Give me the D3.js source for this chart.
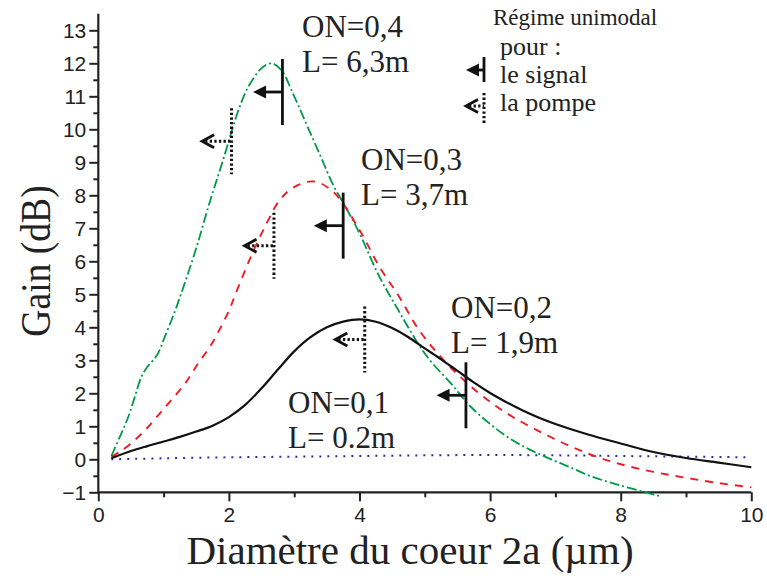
<!DOCTYPE html>
<html>
<head>
<meta charset="utf-8">
<script src="https://cdn.jsdelivr.net/npm/d3@7"></script>
<style>
  html, body { margin: 0; padding: 0; background: #fff; }
  svg { display: block; }
</style>
</head>
<body>
<svg id="chart" width="767" height="576"></svg>
<script>
// ---------------- DATA ----------------
// ON = 0.1, L = 0.2 m (blue dotted)
const on01X = [0.2, 1, 2, 3, 4, 5, 6, 7, 8, 9, 10];
const on01G = [0.0, 0.03, 0.06, 0.08, 0.1, 0.12, 0.13, 0.12, 0.1, 0.08, 0.06];

// ON = 0.2, L = 1.9 m (black solid)
const on02X = [0.2, 0.5, 0.75, 1.0, 1.25, 1.5, 1.75, 2.0, 2.25, 2.5, 2.75, 3.0, 3.25, 3.5, 3.75, 4.0, 4.25, 4.5, 4.75, 5.0, 5.25, 5.5, 5.75, 6.0, 6.25, 6.5, 6.75, 7.0, 7.5, 8.0, 8.5, 9.0, 9.5, 10.0];
const on02G = [0.03, 0.25, 0.4, 0.54, 0.68, 0.84, 1.02, 1.28, 1.65, 2.15, 2.72, 3.27, 3.7, 4.0, 4.17, 4.24, 4.17, 3.98, 3.7, 3.36, 3.03, 2.68, 2.33, 2.01, 1.73, 1.48, 1.26, 1.07, 0.75, 0.48, 0.22, 0.04, -0.1, -0.24];

// ON = 0.3, L = 3.7 m (red dashed)
const on03X = [0.2, 0.33, 0.5, 0.72, 0.92, 1.12, 1.33, 1.53, 1.71, 1.84, 2.0, 2.1, 2.35, 2.58, 2.78, 3.0, 3.3, 3.6, 4.0, 4.3, 4.6, 4.9, 5.2, 5.5, 5.8, 6.1, 6.4, 6.8, 7.2, 7.6, 8.0, 8.5, 9.0, 9.5, 10.0];
const on03G = [0.08, 0.23, 0.48, 0.89, 1.34, 1.8, 2.3, 2.91, 3.41, 3.87, 4.5, 5.0, 6.2, 7.16, 7.86, 8.25, 8.42, 8.1, 6.95, 5.85, 4.95, 3.95, 3.2, 2.58, 2.05, 1.6, 1.22, 0.8, 0.42, 0.1, -0.15, -0.38, -0.56, -0.72, -0.85];

// ON = 0.4, L = 6.3 m (green dash-dot)
const on04X = [0.2, 0.33, 0.46, 0.56, 0.66, 0.75, 0.9, 1.02, 1.17, 1.3, 1.5, 1.7, 1.9, 2.15, 2.3, 2.5, 2.65, 2.8, 3.0, 3.2, 3.4, 3.6, 3.8, 4.0, 4.3, 4.6, 4.9, 5.1, 5.4, 5.7, 6.0, 6.3, 6.6, 6.9, 7.2, 7.5, 7.8, 8.1, 8.6];
const on04G = [0.1, 0.68, 1.29, 1.9, 2.5, 2.8, 3.16, 3.72, 4.47, 5.2, 6.4, 7.75, 9.0, 10.6, 11.3, 11.85, 12.0, 11.8, 11.0, 10.1, 9.2, 8.3, 7.6, 6.85, 5.55, 4.5, 3.5, 2.95, 2.3, 1.6, 1.07, 0.63, 0.3, 0.03, -0.22, -0.48, -0.68, -0.85, -1.12];

// Single-mode cutoff markers (order: ON 0.2, 0.3, 0.4)
const signalCutX = [5.63, 3.75, 2.82];
const signalMidG = [1.94, 7.08, 11.13];
const pumpCutX = [4.08, 2.69, 2.04];
const pumpMidG = [3.63, 6.47, 9.64];

// Ticks
const xMajorTicks = [0, 2, 4, 6, 8, 10];
const xMinorTicks = [1, 3, 5, 7, 9];
const yMajorTicks = [-1, 0, 1, 2, 3, 4, 5, 6, 7, 8, 9, 10, 11, 12, 13];
const yMinorTicks = [-0.5, 0.5, 1.5, 2.5, 3.5, 4.5, 5.5, 6.5, 7.5, 8.5, 9.5, 10.5, 11.5, 12.5];

// Text
const curveLabels = [
  ["ON=0,4", "L= 6,3m"],
  ["ON=0,3", "L= 3,7m"],
  ["ON=0,2", "L= 1,9m"],
  ["ON=0,1", "L= 0.2m"]
];
const legendLines = ["Régime unimodal", "pour :", "le signal", "la pompe"];
const xTitle = "Diamètre du coeur 2a (\u00b5m)";
const yTitle = "Gain (dB)";

// ---------------- LAYOUT ----------------
const svg = d3.select("#chart");
const x = d3.scaleLinear().domain([0, 10]).range([98.3, 751.3]);
const y = d3.scaleLinear().domain([-1, 13.5]).range([492.3, 13.8]);
const serif = "Liberation Serif, Times New Roman, serif";
const sans = "Liberation Sans, Arial, sans-serif";

// Axes
const xAxisMajor = d3.axisBottom(x).tickValues(xMajorTicks).tickSize(9).tickPadding(6).tickFormat(d3.format("d"));
const xAxisMinor = d3.axisBottom(x).tickValues(xMinorTicks).tickSize(5).tickFormat("");
const yAxisMajor = d3.axisLeft(y).tickValues(yMajorTicks).tickSize(9).tickPadding(3).tickFormat(d3.format("d"));
const yAxisMinor = d3.axisLeft(y).tickValues(yMinorTicks).tickSize(5).tickFormat("");

function styleAxis(g) {
  g.selectAll("path.domain").attr("stroke", "#222").attr("stroke-width", 2.2);
  g.selectAll(".tick line").attr("stroke", "#222").attr("stroke-width", 2);
  g.selectAll(".tick text").attr("font-family", sans).attr("font-size", 21).attr("fill", "#222");
}

const gx = svg.append("g").attr("transform", `translate(0,${y(-1)})`).call(xAxisMajor).call(styleAxis);
gx.select("path.domain").attr("d", `M${x(0)},0H${x(10)}`);
const gxm = svg.append("g").attr("transform", `translate(0,${y(-1)})`).call(xAxisMinor).call(styleAxis);
gxm.select("path.domain").remove();

const gy = svg.append("g").attr("transform", `translate(${x(0)},0)`).call(yAxisMajor).call(styleAxis);
gy.select("path.domain").attr("d", `M0,${y(13.5)}V${y(-1)}`);
gy.selectAll(".tick text").attr("dy", "0.36em");
const gym = svg.append("g").attr("transform", `translate(${x(0)},0)`).call(yAxisMinor).call(styleAxis);
gym.select("path.domain").remove();

// Axis titles
svg.append("text")
  .attr("transform", `translate(50,261) rotate(-90) scale(0.94,1.07)`)
  .attr("text-anchor", "middle")
  .attr("font-family", serif).attr("font-size", 40).attr("fill", "#222")
  .text(yTitle);
svg.append("text")
  .attr("x", 410).attr("y", 564)
  .attr("text-anchor", "middle")
  .attr("font-family", serif).attr("font-size", 41).attr("fill", "#222")
  .text(xTitle);

// Curves
const line = d3.line().x(d => x(d[0])).y(d => y(d[1])).curve(d3.curveCatmullRom.alpha(0.5));
const series = [
  { xs: on01X, gs: on01G, color: "#2b2ba6", width: 2, dash: "2,6" },
  { xs: on04X, gs: on04G, color: "#00994a", width: 1.8, dash: "10,3,2,3" },
  { xs: on03X, gs: on03G, color: "#ee1c25", width: 1.9, dash: "8,7" },
  { xs: on02X, gs: on02G, color: "#111", width: 2.2, dash: null }
];
series.forEach(s => {
  svg.append("path")
    .datum(s.xs.map((v, i) => [v, s.gs[i]]))
    .attr("d", line)
    .attr("fill", "none")
    .attr("stroke", s.color)
    .attr("stroke-width", s.width)
    .attr("stroke-dasharray", s.dash);
});

// Marker drawing helpers (pixel-space shapes)
function signalMarker(px, pyTop, pyBot, pyArrow, lineLen) {
  const g = svg.append("g");
  g.append("line").attr("x1", px).attr("x2", px).attr("y1", pyTop).attr("y2", pyBot)
    .attr("stroke", "#111").attr("stroke-width", 2.8);
  const tip = px - lineLen;
  g.append("line").attr("x1", tip + 10).attr("x2", px).attr("y1", pyArrow).attr("y2", pyArrow)
    .attr("stroke", "#111").attr("stroke-width", 2.8);
  g.append("path").attr("d", `M${tip},${pyArrow}L${tip + 13},${pyArrow - 6.5}L${tip + 13},${pyArrow + 6.5}Z`)
    .attr("fill", "#111");
}
function pumpMarker(px, pyTop, pyBot, pyArrow, lineLen) {
  const g = svg.append("g");
  g.append("line").attr("x1", px).attr("x2", px).attr("y1", pyTop).attr("y2", pyBot)
    .attr("stroke", "#111").attr("stroke-width", 3).attr("stroke-dasharray", "2.3,2.3");
  const tip = px - lineLen;
  g.append("line").attr("x1", tip + 3).attr("x2", px).attr("y1", pyArrow).attr("y2", pyArrow)
    .attr("stroke", "#111").attr("stroke-width", 3).attr("stroke-dasharray", "2.3,2.3");
  g.append("path").attr("d", `M${tip + 12},${pyArrow - 6.5}L${tip},${pyArrow}L${tip + 12},${pyArrow + 6.5}`)
    .attr("fill", "none").attr("stroke", "#111").attr("stroke-width", 2.8);
}

signalCutX.forEach((cx, i) => {
  const mid = signalMidG[i];
  signalMarker(x(cx), y(mid + 1), y(mid - 1), y(mid), x(cx) - x(cx - 0.45));
});
pumpCutX.forEach((cx, i) => {
  const mid = pumpMidG[i];
  pumpMarker(x(cx), y(mid + 1), y(mid - 1), y(mid), x(cx) - x(cx - 0.45));
});

// Curve labels
const labelPos = [[302, 37], [361, 170], [451, 318], [288, 413]];
curveLabels.forEach((lines, i) => {
  const t = svg.append("text")
    .attr("font-family", serif).attr("font-size", 31).attr("fill", "#222");
  lines.forEach((s, j) => {
    t.append("tspan").attr("x", labelPos[i][0]).attr("y", labelPos[i][1] + j * 35).text(s);
  });
});

// Legend
const legendPos = [[493, 25], [500, 55], [500, 83], [500, 111]];
const legendSize = [23, 26, 26, 26];
legendLines.forEach((s, i) => {
  svg.append("text")
    .attr("x", legendPos[i][0]).attr("y", legendPos[i][1])
    .attr("font-family", serif).attr("font-size", legendSize[i]).attr("fill", "#222")
    .text(s);
});
signalMarker(484, 57, 82, 70, 18);
pumpMarker(484, 93, 123, 106, 18);
</script>
</body>
</html>
